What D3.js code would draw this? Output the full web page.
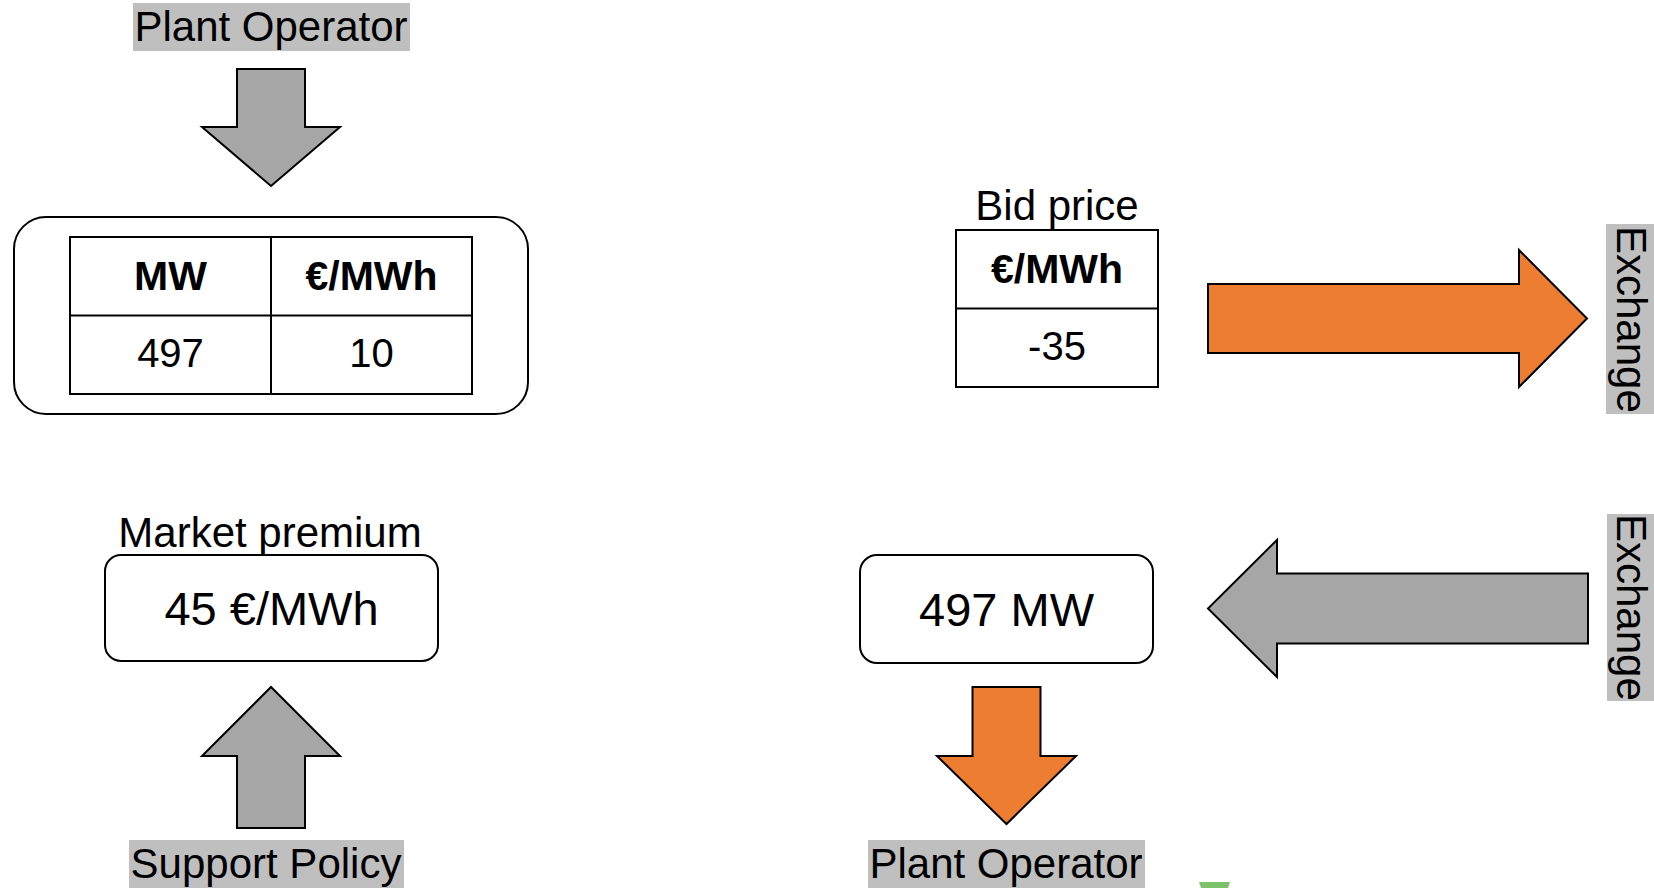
<!DOCTYPE html>
<html>
<head>
<meta charset="utf-8">
<script src="https://cdn.jsdelivr.net/npm/d3@7"></script>
<style>
  html, body { margin: 0; padding: 0; background: #fff; }
  svg { display: block; font-family: "Liberation Sans", Arial, sans-serif; }
</style>
</head>
<body>
<div id="chart"></div>
<script>
// Values shown in the diagram
var actorLabels = ["Plant Operator", "Support Policy", "Plant Operator", "Exchange", "Exchange"];
var offerHeaders = ["MW", "€/MWh"];
var offerValues = [497, 10];
var bidHeaders = ["€/MWh"];
var bidValues = [-35];
var captions = ["Bid price", "Market premium"];
var premiumValue = 45;
var awardedMW = 497;

var width = 1654, height = 888;

var svg = d3.select("#chart")
  .append("svg")
    .attr("width", width)
    .attr("height", height);

var grey = "#a6a6a6", orange = "#ed7d31", labelBg = "#bfbfbf";

// Arrow shape inside a box, pointing in dir
function arrowPoints(b, dir, shaft, head) {
  var cx = b.x + b.w / 2, cy = b.y + b.h / 2, s = shaft / 2;
  if (dir === "down") return [[cx - s, b.y], [cx + s, b.y], [cx + s, b.y + b.h - head], [b.x + b.w, b.y + b.h - head],
    [cx, b.y + b.h], [b.x, b.y + b.h - head], [cx - s, b.y + b.h - head]];
  if (dir === "up") return [[cx - s, b.y + b.h], [cx + s, b.y + b.h], [cx + s, b.y + head], [b.x + b.w, b.y + head],
    [cx, b.y], [b.x, b.y + head], [cx - s, b.y + head]];
  if (dir === "right") return [[b.x, cy - s], [b.x + b.w - head, cy - s], [b.x + b.w - head, b.y], [b.x + b.w, cy],
    [b.x + b.w - head, b.y + b.h], [b.x + b.w - head, cy + s], [b.x, cy + s]];
  return [[b.x + b.w, cy - s], [b.x + head, cy - s], [b.x + head, b.y], [b.x, cy],
    [b.x + head, b.y + b.h], [b.x + head, cy + s], [b.x + b.w, cy + s]];
}

var line = d3.line().curve(d3.curveLinearClosed);

var arrows = [
  {box: {x: 202, y: 69, w: 138, h: 117}, dir: "down", shaft: 68, head: 59, fill: grey},
  {box: {x: 202, y: 687, w: 138, h: 141}, dir: "up", shaft: 68, head: 69, fill: grey},
  {box: {x: 1208, y: 250, w: 379, h: 137}, dir: "right", shaft: 69, head: 68, fill: orange},
  {box: {x: 1208, y: 540, w: 380, h: 137}, dir: "left", shaft: 70, head: 69, fill: grey},
  {box: {x: 937, y: 687, w: 139, h: 137}, dir: "down", shaft: 68, head: 68, fill: orange}
];

svg.selectAll("path.arrow")
  .data(arrows)
  .enter().append("path")
    .attr("class", "arrow")
    .attr("d", function(d) { return line(arrowPoints(d.box, d.dir, d.shaft, d.head)); })
    .attr("fill", function(d) { return d.fill; })
    .attr("stroke", "#000")
    .attr("stroke-width", 2)
    .attr("stroke-linejoin", "miter");

// Grey actor labels
var labelBoxes = [
  {x: 133, y: 3, w: 277, h: 48, tx: 271, ty: 41},
  {x: 129, y: 840, w: 275, h: 48, tx: 266, ty: 878},
  {x: 868, y: 840, w: 277, h: 48, tx: 1006, ty: 878},
  {x: 1606, y: 224, w: 48, h: 190, tx: 1617, ty: 226, rot: true},
  {x: 1607, y: 514, w: 47, h: 187, tx: 1617, ty: 514, rot: true}
];

labelBoxes.forEach(function(b, i) {
  svg.append("rect")
    .attr("x", b.x).attr("y", b.y)
    .attr("width", b.w).attr("height", b.h)
    .attr("fill", labelBg);
  var t = svg.append("text")
    .attr("font-size", 42)
    .attr("fill", "#000")
    .text(actorLabels[i]);
  if (b.rot) {
    t.attr("transform", "translate(" + b.tx + "," + b.ty + ") rotate(90)")
     .attr("text-anchor", "start");
  } else {
    t.attr("x", b.tx).attr("y", b.ty).attr("text-anchor", "middle");
  }
});

// Offer table inside rounded box
svg.append("rect")
  .attr("x", 14).attr("y", 217).attr("width", 514).attr("height", 197)
  .attr("rx", 32).attr("ry", 32)
  .attr("fill", "#fff").attr("stroke", "#000").attr("stroke-width", 2);

function drawTable(headers, values, x0, x1, y0, y1) {
  var x = d3.scaleBand().domain(headers).range([x0, x1]);
  var y = d3.scaleBand().domain(["head", "value"]).range([y0, y1]);
  var g = svg.append("g");
  g.append("rect")
    .attr("x", x0).attr("y", y0).attr("width", x1 - x0).attr("height", y1 - y0)
    .attr("fill", "#fff").attr("stroke", "#000").attr("stroke-width", 2);
  g.append("line")
    .attr("x1", x0).attr("x2", x1).attr("y1", y("value")).attr("y2", y("value"))
    .attr("stroke", "#000").attr("stroke-width", 2);
  headers.slice(1).forEach(function(h) {
    g.append("line")
      .attr("x1", x(h)).attr("x2", x(h)).attr("y1", y0).attr("y2", y1)
      .attr("stroke", "#000").attr("stroke-width", 2);
  });
  g.selectAll("text.head")
    .data(headers)
    .enter().append("text")
      .attr("class", "head")
      .attr("x", function(d) { return x(d) + x.bandwidth() / 2; })
      .attr("y", y("head") + y.bandwidth() / 2 + 14)
      .attr("text-anchor", "middle")
      .attr("font-size", 41)
      .attr("font-weight", "bold")
      .text(function(d) { return d; });
  g.selectAll("text.val")
    .data(values)
    .enter().append("text")
      .attr("class", "val")
      .attr("x", function(d, i) { return x(headers[i]) + x.bandwidth() / 2; })
      .attr("y", y("value") + y.bandwidth() / 2 + 12)
      .attr("text-anchor", "middle")
      .attr("font-size", 40)
      .text(function(d) { return d; });
}

drawTable(offerHeaders, offerValues, 70, 472, 237, 394);
drawTable(bidHeaders, bidValues, 956, 1158, 230, 387);

// Captions
svg.append("text")
  .attr("x", 1057).attr("y", 220)
  .attr("text-anchor", "middle").attr("font-size", 42)
  .text(captions[0]);
svg.append("text")
  .attr("x", 270).attr("y", 547)
  .attr("text-anchor", "middle").attr("font-size", 42)
  .text(captions[1]);

// Value boxes
var valueBoxes = [
  {x: 105, y: 555, w: 333, h: 106, r: 16, text: premiumValue + " €/MWh"},
  {x: 860, y: 555, w: 293, h: 108, r: 17, text: awardedMW + " MW"}
];
valueBoxes.forEach(function(b) {
  svg.append("rect")
    .attr("x", b.x).attr("y", b.y).attr("width", b.w).attr("height", b.h)
    .attr("rx", b.r).attr("ry", b.r)
    .attr("fill", "#fff").attr("stroke", "#000").attr("stroke-width", 2);
  svg.append("text")
    .attr("x", b.x + b.w / 2).attr("y", b.y + b.h / 2 + 17)
    .attr("text-anchor", "middle").attr("font-size", 47)
    .text(b.text);
});

// small green shape cut at the bottom edge
svg.append("path")
  .attr("d", line([[1199, 882], [1230, 882], [1228, 888], [1201, 888]]))
  .attr("fill", "#7dc36b");
</script>
</body>
</html>
